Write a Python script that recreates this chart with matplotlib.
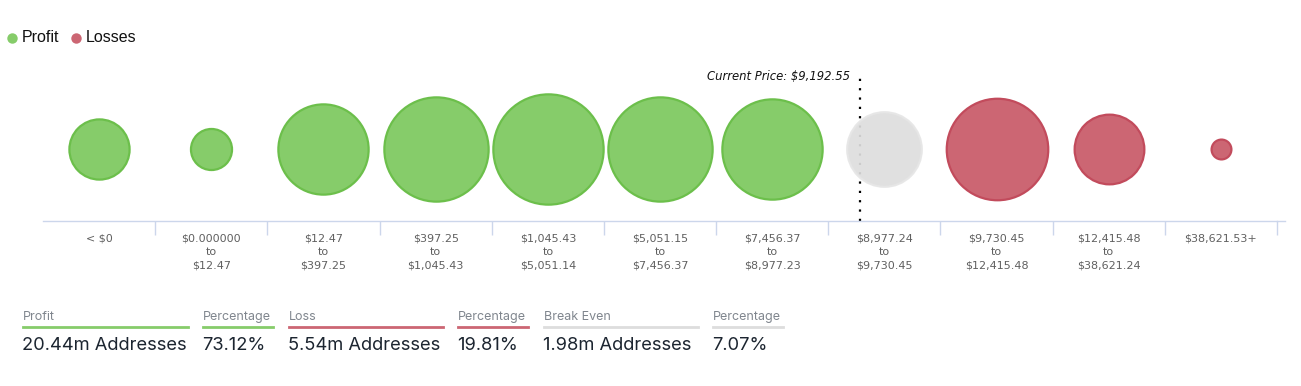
import matplotlib
matplotlib.use("Agg")
import matplotlib.pyplot as plt
import numpy as np

# ---------------- data ----------------
categories = ["< $0", "$0.000000\nto\n$12.47", "$12.47\nto\n$397.25", "$397.25\nto\n$1,045.43",
              "$1,045.43\nto\n$5,051.14", "$5,051.15\nto\n$7,456.37", "$7,456.37\nto\n$8,977.23",
              "$8,977.24\nto\n$9,730.45", "$9,730.45\nto\n$12,415.48", "$12,415.48\nto\n$38,621.24",
              "$38,621.53+"]
# addresses (millions) per bucket
addresses = [1.29, 0.60, 2.90, 3.87, 4.33, 3.87, 3.58, 1.98, 3.67, 1.73, 0.14]
status = ["profit"] * 7 + ["even"] + ["loss"] * 3
current_price = 9192.55
bucket_low = 8977.24
bucket_high = 9730.45
bucket_index = 7

stat_labels = ["Profit", "Percentage", "Loss", "Percentage", "Break Even", "Percentage"]
stat_values = ["20.44m Addresses", "73.12%", "5.54m Addresses", "19.81%", "1.98m Addresses", "7.07%"]
stat_kind = ["profit", "profit", "loss", "loss", "even", "even"]

# ---------------- style ----------------
fill = {"profit": "#86cc6a", "loss": "#cc6673", "even": "#dedede"}
edge = {"profit": "#6cbf4b", "loss": "#c24b5c", "even": "#e6e6e6"}
under = {"profit": "#86cc6a", "loss": "#cc6673", "even": "#dddddd"}

W, H, DPI = 13.01, 3.86, 100
fig = plt.figure(figsize=(W, H), dpi=DPI)
PXW, PXH = W * DPI, H * DPI

def fx(px):
    return px / PXW

def fy(py):
    return 1 - py / PXH

# bubble axes
ax_left, ax_right = 43, 1277
ax_top, ax_bot = 60, 221
ax = fig.add_axes([fx(ax_left), fy(ax_bot), fx(ax_right - ax_left), (ax_bot - ax_top) / PXH])
n = len(categories)
x = np.arange(n)
ax.set_xlim(-0.5, n - 0.5)
ax.set_ylim(0, 1)
yc = (ax_bot - 149) / (ax_bot - ax_top)

k = 53.0  # px diameter per sqrt(million)
diam_px = k * np.sqrt(np.array(addresses))
sizes = (diam_px * 72 / DPI) ** 2

# current price line
frac = (current_price - bucket_low) / (bucket_high - bucket_low)
xp = bucket_index - 0.5 + frac
ax.plot([xp, xp], [0, (ax_bot - 75) / (ax_bot - ax_top)], color="black", lw=1.6,
        linestyle=(0, (1, 3.2)), zorder=1, clip_on=False)
ax.text(xp - 0.09, (ax_bot - 76) / (ax_bot - ax_top), "Current Price: $9,192.55", ha="right",
        va="center", fontsize=8.4, style="italic", color="#111111", clip_on=False)

for xi, s, st in zip(x, sizes, status):
    ax.scatter([xi], [yc], s=s, c=fill[st], edgecolors=edge[st], linewidths=1.6,
               zorder=3, alpha=0.92 if st == "even" else 1.0)

for sp in ["top", "right", "left"]:
    ax.spines[sp].set_visible(False)
ax.spines["bottom"].set_color("#ccd6eb")
ax.spines["bottom"].set_linewidth(1)
ax.set_yticks([])
ax.set_xticks(x)
ax.set_xticklabels(categories, fontsize=8, color="#606060", linespacing=1.45, va="top")
ax.tick_params(axis="x", which="major", length=0, pad=9)
ax.set_xticks(np.arange(0.5, n, 1), minor=True)
ax.tick_params(axis="x", which="minor", length=10, color="#ccd6eb", width=1)

# extend axis line a little to the right
fig.add_artist(plt.Line2D([fx(ax_right), fx(1285)], [fy(ax_bot), fy(ax_bot)], color="#ccd6eb", lw=1))

# legend
fig.add_artist(plt.Line2D([fx(12)], [fy(38)], marker="o", markersize=7.5, color=fill["profit"],
                          markeredgewidth=0, linestyle="none"))
fig.text(fx(22), fy(38), "Profit", fontsize=11.5, va="center", ha="left", color="#111111",
         family="Liberation Sans")
fig.add_artist(plt.Line2D([fx(76)], [fy(38)], marker="o", markersize=7.5, color=fill["loss"],
                          markeredgewidth=0, linestyle="none"))
fig.text(fx(86), fy(38), "Losses", fontsize=11.5, va="center", ha="left", color="#111111",
         family="Liberation Sans")

# stats
starts = [23, 203, 289, 458, 544, 713]
ends = [188, 273, 443, 528, 698, 783]
for lab, val, kind, x0, x1 in zip(stat_labels, stat_values, stat_kind, starts, ends):
    fig.text(fx(x0), fy(317), lab, fontsize=9, color="#80868e", va="center", ha="left", family="Inter")
    fig.add_artist(plt.Line2D([fx(x0), fx(x1)], [fy(327), fy(327)], color=under[kind], lw=2))
    fig.text(fx(x0 - 1), fy(346), val, fontsize=13.2, color="#1c2530", va="center", ha="left",
             family="Inter")

fig.savefig("out.png", dpi=DPI)
